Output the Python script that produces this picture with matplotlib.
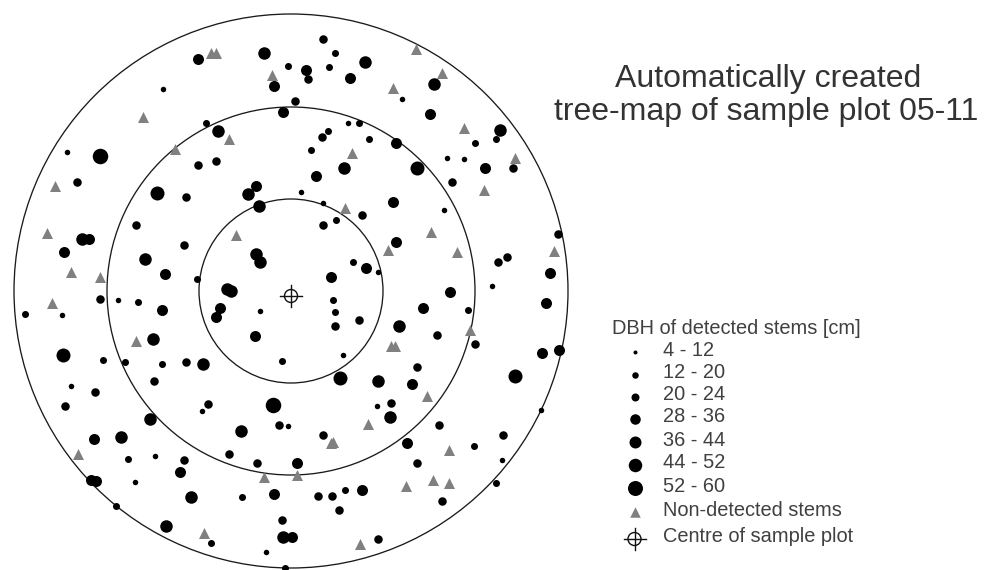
import matplotlib
matplotlib.use("Agg")
import matplotlib.pyplot as plt
from matplotlib.patches import Circle

plt.rcParams['font.family'] = ['Liberation Sans', 'DejaVu Sans']

# Points (x, y in image pixels), one list per DBH class
c0 = [(163,89),(67,152),(402,99),(348,123),(447,158),(464,159),(301,192),(323,203),(444,210),(378,272),(492,286),(118,300),
      (62,315),(260,311),(71,386),(202,411),(288,426),(155,456),(135,482),(266,552),(343,355),(377,406),(541,410),(502,460)]
c1 = [(288,66),(206,123),(197,279),(335,53),(329,67),(359,123),(328,131),(369,139),(311,150),(496,139),(475,143),(336,220),
      (353,262),(138,302),(25,314),(103,360),(125,362),(162,364),(282,361),(128,459),(242,497),(116,506),(211,543),(285,568),
      (333,300),(335,312),(468,310),(474,446),(496,483),(345,490)]
c2 = [(198,165),(216,161),(77,182),(186,197),(136,225),(184,245),(323,39),(308,79),(295,101),(322,137),(513,168),(452,182),
      (362,215),(323,225),(558,234),(507,257),(498,262),(100,299),(186,362),(154,381),(95,392),(65,406),(208,404),(279,425),
      (229,454),(257,463),(184,460),(282,520),(335,326),(359,320),(437,335),(475,344),(417,367),(391,403),(439,425),(323,435),
      (503,435),(417,463),(318,496),(332,496),(339,510),(442,501),(378,539)]
c3 = [(198,59),(274,86),(283,112),(256,186),(89,239),(64,252),(165,274),(306,70),(350,78),(430,114),(396,143),(485,168),
      (316,176),(393,202),(396,242),(366,268),(331,277),(550,273),(450,292),(162,310),(220,308),(216,317),(255,336),(94,439),
      (180,472),(91,480),(96,481),(274,494),(292,537),(423,308),(546,303),(542,353),(559,350),(412,384),(407,443),(297,463),(362,490)]
c4 = [(264,53),(218,131),(248,194),(259,206),(82,239),(145,259),(256,254),(260,262),(227,289),(231,291),(365,62),(434,84),
      (500,130),(344,168),(153,339),(203,364),(150,419),(241,431),(121,437),(191,497),(166,526),(283,537),(399,326),(378,381),(390,417)]
c5 = [(157,193),(417,168),(63,355),(340,378),(515,376)]
c6 = [(100,156),(273,405)]
tri = [(211,53),(216,53),(272,75),(143,117),(229,139),(175,149),(55,186),(47,233),(71,272),(100,277),(236,235),
       (416,49),(442,73),(393,88),(464,128),(515,158),(352,153),(484,190),(345,208),(431,232),(388,250),(457,252),(554,251),
       (52,303),(136,341),(78,454),(264,477),(204,533),
       (470,330),(391,346),(395,346),(427,396),(368,424),(331,443),(333,442),(449,450),(297,475),(406,486),(433,480),(449,483),(360,544)]
classes = [c0, c1, c2, c3, c4, c5, c6]

ring_radii = [92, 184, 277]
class_labels = ['4 - 12', '12 - 20', '20 - 24', '28 - 36', '36 - 44', '44 - 52', '52 - 60']
diam_px = [5.5, 7, 8.5, 11, 12.5, 14, 15.5]
legend_diam = [4, 6.5, 8, 10.5, 12, 13.5, 15]
legend_y = [352, 375, 397, 419, 442, 465, 488]


def s(d):
    return (d * 0.72) ** 2


def crosshair(ax, x, y):
    ax.add_patch(Circle((x, y), 6.5, fill=False, ec='#111111', lw=1.0))
    ax.plot([x - 11, x + 11], [y, y], color='#111111', lw=1.0)
    ax.plot([x, x], [y - 11, y + 11], color='#111111', lw=1.0)


fig = plt.figure(figsize=(9.84, 5.70), dpi=100)
ax = fig.add_axes([0, 0, 1, 1])
ax.set_xlim(0, 984)
ax.set_ylim(570, 0)
ax.axis('off')

for r in ring_radii:
    ax.add_patch(Circle((291, 291), r, fill=False, ec='#1a1a1a', lw=0.95))

ax.scatter(*zip(*tri), marker='^', s=s(11), c='#808080', linewidths=0, zorder=3)
for pts, d in zip(classes, diam_px):
    ax.scatter(*zip(*pts), s=s(d), c='black', linewidths=0, zorder=4)
crosshair(ax, 291, 296)

# Title
tc = '#333333'
ax.text(768, 79, 'Automatically created', ha='center', va='center', fontsize=23, color=tc)
ax.text(766, 112, 'tree-map of sample plot 05-11', ha='center', va='center', fontsize=23, color=tc)

# Legend
lc = '#404040'
fs = 14.4
ax.text(612, 328, 'DBH of detected stems [cm]', ha='left', va='center', fontsize=fs, color=lc)
for lab, y, d in zip(class_labels, legend_y, legend_diam):
    ax.scatter([634.5], [y], s=s(d), c='black', linewidths=0)
    ax.text(663, y - 2, lab, ha='left', va='center', fontsize=fs, color=lc)
ax.scatter([635], [512], marker='^', s=s(10.5), c='#808080', linewidths=0)
ax.text(663, 510, 'Non-detected stems', ha='left', va='center', fontsize=fs, color=lc)
crosshair(ax, 634.5, 539)
ax.text(663, 537, 'Centre of sample plot', ha='left', va='center', fontsize=fs, color=lc)

fig.savefig('out.png', dpi=100, facecolor='white')
